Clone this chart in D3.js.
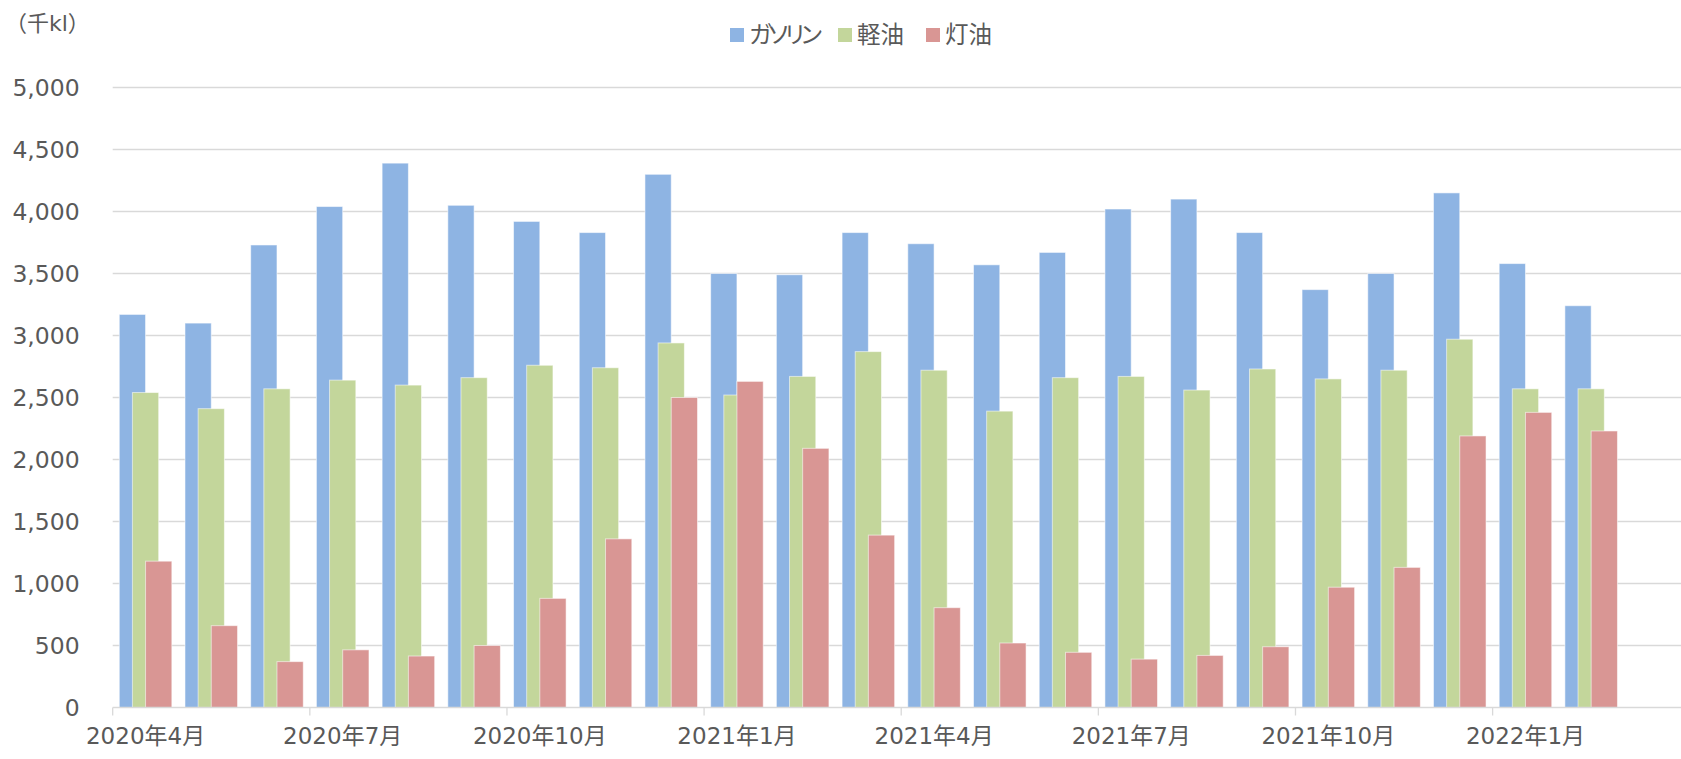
<!DOCTYPE html>
<html>
<head>
<meta charset="utf-8">
<script src="https://cdn.jsdelivr.net/npm/d3@7"></script>
<style>
  body { margin: 0; background: #fff; }
  text { font-family: "DejaVu Sans", "Noto Sans CJK JP", sans-serif; fill: #595959; }
</style>
</head>
<body>
<div id="chart"></div>
<script>
// months on the x axis (last one has no data yet)
const categories = ["2020年4月","2020年5月","2020年6月","2020年7月","2020年8月","2020年9月",
  "2020年10月","2020年11月","2020年12月","2021年1月","2021年2月","2021年3月",
  "2021年4月","2021年5月","2021年6月","2021年7月","2021年8月","2021年9月",
  "2021年10月","2021年11月","2021年12月","2022年1月","2022年2月","2022年3月"]

const seriesNames = ["ガソリン", "軽油", "灯油"]

// 千kl
const gasoline = [3170, 3100, 3730, 4040, 4390, 4050, 3920, 3830, 4300, 3500, 3490, 3830,
  3740, 3570, 3670, 4020, 4100, 3830, 3370, 3500, 4150, 3580, 3240]
const diesel = [2540, 2410, 2570, 2640, 2600, 2660, 2760, 2740, 2940, 2520, 2670, 2870,
  2720, 2390, 2660, 2670, 2560, 2730, 2650, 2720, 2970, 2570, 2570]
const kerosene = [1180, 660, 370, 465, 415, 500, 880, 1360, 2500, 2630, 2090, 1390,
  805, 520, 445, 390, 420, 490, 970, 1130, 2190, 2380, 2230]

const yTicks = [0, 500, 1000, 1500, 2000, 2500, 3000, 3500, 4000, 4500, 5000]
const labelEvery = 3

const colors = ["#8EB4E3", "#C3D69B", "#D99694"]

const W = 1681, H = 759
const margin = ({top: 87.5, left: 112.7, bottom: 51.5})
const bandW = 65.71

const svg = d3.select("#chart").append("svg")
    .attr("width", W)
    .attr("height", H)

const x = d3.scaleBand()
    .domain(categories)
    .range([margin.left, margin.left + bandW * categories.length])
    .padding(0)

const y = d3.scaleLinear()
    .domain([0, 5000])
    .range([H - margin.bottom, margin.top])

// gridlines
svg.append("g")
    .selectAll("line")
    .data(yTicks.slice(1))
    .join("line")
    .attr("x1", x.range()[0])
    .attr("x2", x.range()[1])
    .attr("y1", d => y(d))
    .attr("y2", d => y(d))
    .attr("stroke", "#d9d9d9")
    .attr("stroke-width", 1.3)

// y labels
const yAxis = d3.axisLeft(y)
    .tickValues(yTicks)
    .tickFormat(d3.format(","))
    .tickSize(0)
    .tickPadding(0)

svg.append("g")
    .attr("class", "y-axis")
    .attr("transform", `translate(${margin.left - 33},0)`)
    .call(yAxis)
    .call(g => g.select(".domain").remove())
    .call(g => g.selectAll("text").attr("font-size", 23.5).attr("fill", "#595959"))

// bars: overlap 50%, gap width 50%
const w = x.bandwidth() * 0.4
const step = w / 2
const pad = (x.bandwidth() - 2 * w) / 2
const series = [gasoline, diesel, kerosene]

series.forEach((values, s) => {
    svg.append("g")
        .selectAll("rect")
        .data(values)
        .join("rect")
        .attr("x", (d, i) => x(categories[i]) + pad + s * step)
        .attr("width", w)
        .attr("y", d => y(d))
        .attr("height", d => y(0) - y(d))
        .attr("fill", colors[s])
        .attr("stroke", "rgba(255,255,255,0.55)")
        .attr("stroke-width", 1)
})

// x axis line + tick marks at band boundaries
const baseY = y(0)
svg.append("line")
    .attr("x1", x.range()[0])
    .attr("x2", x.range()[1])
    .attr("y1", baseY)
    .attr("y2", baseY)
    .attr("stroke", "#d9d9d9")
    .attr("stroke-width", 1.3)

const labelled = categories.filter((c, i) => i % labelEvery === 0)

svg.append("g")
    .selectAll("line")
    .data(labelled)
    .join("line")
    .attr("x1", d => x(d))
    .attr("x2", d => x(d))
    .attr("y1", baseY)
    .attr("y2", baseY + 8)
    .attr("stroke", "#d9d9d9")
    .attr("stroke-width", 1.3)

const xAxis = d3.axisBottom(x)
    .tickValues(labelled)
    .tickSize(0)
    .tickPadding(0)

svg.append("g")
    .attr("class", "x-axis")
    .attr("transform", `translate(0,${baseY + 29})`)
    .call(xAxis)
    .call(g => g.select(".domain").remove())
    .call(g => g.selectAll("text").attr("font-size", 23).attr("fill", "#595959").attr("dy", "0.32em"))

// unit label
svg.append("text")
    .attr("x", 5)
    .attr("y", 23)
    .attr("dy", "0.35em")
    .attr("font-size", 22)
    .text("（千kl）")

// legend
const legendPos = [730, 838, 926]
const legend = svg.append("g")
    .selectAll("g")
    .data(seriesNames)
    .join("g")
    .attr("transform", (d, i) => `translate(${legendPos[i]},35)`)

legend.append("rect")
    .attr("x", 0)
    .attr("y", -7)
    .attr("width", 14)
    .attr("height", 14)
    .attr("fill", (d, i) => colors[i])

legend.append("text")
    .attr("x", 19)
    .attr("dy", "0.35em")
    .attr("font-size", 23.5)
    .style("font-feature-settings", "'palt'")
    .attr("letter-spacing", (d, i) => i === 0 ? -3 : 0)
    .text(d => d)
</script>
</body>
</html>
